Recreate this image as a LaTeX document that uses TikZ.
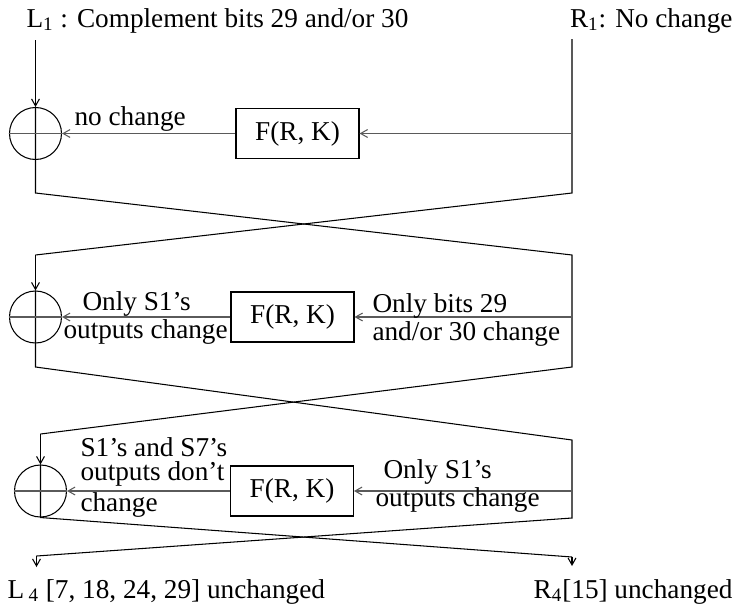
\documentclass[tikz,border=0pt]{standalone}
\usepackage{fontspec}
\setmainfont{Liberation Serif}
\usepackage{tikz}
\usetikzlibrary{arrows.meta}
\definecolor{wiregray}{RGB}{90,90,90}

\begin{document}
\begin{tikzpicture}[>={Straight Barb[length=4pt,width=4.5pt]}, line width=0.6pt,
  font=\fontsize{15.5}{16}\selectfont,
  fbox/.style={draw, minimum width=2.46cm, minimum height=1.0cm, inner sep=0pt},
  xorop/.style={draw, circle, minimum size=1.04cm, inner sep=0pt},
  lbl/.style={inner sep=0pt, align=left}]

\useasboundingbox (0,0) rectangle (14.76,12.14);

% inputs and outputs
\node[lbl, anchor=base west] (lone) at (0.52,11.60) {L\textsubscript{1} : Complement bits 29 and/or 30};
\node[lbl, anchor=base east] (rone) at (14.66,11.60) {R\textsubscript{1}: No change};
\node[lbl, anchor=base west] (lfour) at (0.14,0.18) {L\,\textsubscript{4} [7, 18, 24, 29] unchanged};
\node[lbl, anchor=base east] (rfour) at (14.66,0.18) {R\textsubscript{4}[15] unchanged};

% rounds
\node[xorop] (xor1) at (0.71,9.47) {};
\node[fbox]  (f1)   at (5.95,9.47) {F(R, K)};
\node[xorop] (xor2) at (0.71,5.80) {};
\node[fbox]  (f2)   at (5.85,5.80) {F(R, K)};
\node[xorop] (xor3) at (0.81,2.32) {};
\node[fbox]  (f3)   at (5.84,2.32) {F(R, K)};

\coordinate (lin) at (0.71,11.34);  \coordinate (rin) at (11.44,11.36);
\coordinate (b1l) at (0.71,8.28);   \coordinate (b1r) at (11.44,8.28);
\coordinate (t2l) at (0.71,7.04);   \coordinate (t2r) at (11.44,7.04);
\coordinate (b2l) at (0.71,4.80);   \coordinate (b2r) at (11.44,4.80);
\coordinate (t3l) at (0.81,3.46);   \coordinate (t3r) at (11.44,3.34);
\coordinate (b3r) at (11.44,1.78);
\coordinate (o3l) at (0.73,1.02);   \coordinate (o3r) at (11.44,1.00);
\coordinate (lout) at (0.73,0.80);  \coordinate (rout) at (11.44,0.82);
\coordinate (k1) at (11.44,9.47);   \coordinate (k2) at (11.44,5.80);
\coordinate (k3) at (11.44,2.32);

% left half
\draw[->] (lin) -- (xor1);
\draw (xor1.north) -- (xor1.south) -- (b1l) -- (t2r) -- (b2r) -- (t3l);
\draw[->] (t3l) -- (xor3);
\draw (xor3.north) -- (xor3.south) -- (o3r);
\draw[->] (o3r) -- (rout);

% right half
\draw (rin) -- (b1r) -- (t2l);
\draw[->] (t2l) -- (xor2);
\draw (xor2.north) -- (xor2.south) -- (b2l) -- (t3r) -- (b3r) -- (o3l);
\draw[->] (o3l) -- (lout);

% f functions
\foreach \i in {1,2,3}{
  \draw[->, wiregray] (k\i) -- (f\i);
  \draw[->, wiregray] (f\i) -- (xor\i);
  \draw[wiregray] (xor\i.west) -- (xor\i.east);
}

% change notes
\node[lbl, anchor=base west] (n1) at (1.48,9.64) {no change};
\node[lbl, anchor=west] (n2l) at (1.26,5.78) {\hspace*{0.38cm}Only S1's\\outputs change};
\node[lbl, anchor=west] (n2r) at (7.44,5.74) {Only bits 29\\and/or 30 change};
\node[lbl, anchor=west, font=\fontsize{15.5}{14}\selectfont] (n3l) at (1.60,2.59) {S1's and S7's\\outputs don't\\[2.5pt]change};
\node[lbl, anchor=west] (n3r) at (7.50,2.42) {\hspace*{0.16cm}Only S1's\\outputs change};

\end{tikzpicture}
\end{document}
